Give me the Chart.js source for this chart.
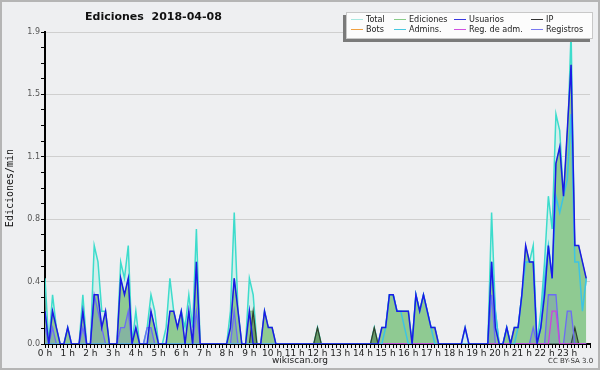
<!DOCTYPE html>
<html>
<head>
<meta charset="utf-8">
<script src="https://cdn.jsdelivr.net/npm/chart.js@4.4.0/dist/chart.umd.min.js"></script>
<style>
html, body { margin: 0; padding: 0; background: #fff; }
#wrap { position: relative; width: 600px; height: 370px; background: #eeeff1; font-family: "DejaVu Sans", sans-serif; overflow: hidden; }
#wrap canvas { position: absolute; left: 0; top: 0; }
#frame { position: absolute; left: 0; top: 0; width: 600px; height: 370px; box-sizing: border-box; border: 2px solid #b5b5b5; pointer-events: none; }
#title { position: absolute; left: 85px; top: 10px; font: bold 11px "DejaVu Sans", sans-serif; white-space: pre; color: #111; }
#legend { position: absolute; left: 346px; top: 12px; width: 247px; height: 27px; box-sizing: border-box; background: #fcfcfc; border: 1px solid #c8c8c8; box-shadow: -3px 3px 0 #7a7a7a; }
.item { position: absolute; font-family: "DejaVu Sans Condensed", "DejaVu Sans", sans-serif; font-stretch: condensed; font-size: 9px; line-height: 10px; color: #222; white-space: nowrap; }
.item i { position: absolute; left: 0; top: 5px; height: 1px; width: 12px; }
#site { position: absolute; left: 0; width: 600px; top: 355px; text-align: center; font-size: 9px; color: #222; }
#lic { position: absolute; left: 548px; top: 357px; font-size: 7px; color: #333; white-space: nowrap; }
</style>
</head>
<body>
<div id="wrap">
  <canvas id="chart" width="600" height="370"></canvas>
  <div id="title">Ediciones  2018-04-08</div>
  <div id="legend"></div>
  <div id="site">wikiscan.org</div>
  <div id="lic">CC BY-SA 3.0</div>
  <div id="frame"></div>
</div>
<script>
// ----- Données : une valeur toutes les 10 minutes (144 points) -----
const hourLabels = Array.from({ length: 24 }, (_, h) => h + ' h');

const total = [
  0.4, 0, 0.3, 0.1, 0, 0, 0.1, 0, 0, 0, 0.3, 0,
  0, 0.6, 0.5, 0.2, 0.2, 0, 0, 0, 0.5, 0.4, 0.6, 0,
  0.2, 0, 0, 0.1, 0.3, 0.2, 0, 0, 0.1, 0.4, 0.2, 0.1,
  0.2, 0.1, 0.3, 0.1, 0.7, 0, 0, 0, 0, 0, 0, 0,
  0, 0.2, 0.8, 0.2, 0, 0, 0.4, 0.3, 0, 0, 0.2, 0.1,
  0.1, 0, 0, 0, 0, 0, 0, 0, 0, 0, 0, 0,
  0.1, 0, 0, 0, 0, 0, 0, 0, 0, 0, 0, 0,
  0, 0, 0, 0.1, 0, 0.1, 0.1, 0.3, 0.3, 0.2, 0.2, 0.2,
  0.2, 0, 0.3, 0.2, 0.3, 0.2, 0.1, 0.1, 0, 0, 0, 0,
  0, 0, 0, 0.1, 0, 0, 0, 0, 0, 0, 0.8, 0.2,
  0, 0, 0.1, 0, 0.1, 0.1, 0.3, 0.5, 0.5, 0.6, 0, 0.2,
  0.5, 0.9, 0.7, 1.4, 1.3, 0.9, 1.2, 1.9, 0.5, 0.5, 0.2, 0.4
];
const ediciones = [
  0.2, 0, 0.2, 0.1, 0, 0, 0.1, 0, 0, 0, 0.2, 0,
  0, 0.3, 0.3, 0.1, 0.2, 0, 0, 0, 0.4, 0.3, 0.4, 0,
  0.1, 0, 0, 0, 0.2, 0.1, 0, 0, 0, 0.2, 0.2, 0.1,
  0.2, 0, 0.2, 0, 0.5, 0, 0, 0, 0, 0, 0, 0,
  0, 0.1, 0.4, 0.2, 0, 0, 0.2, 0.2, 0, 0, 0.2, 0.1,
  0.1, 0, 0, 0, 0, 0, 0, 0, 0, 0, 0, 0,
  0.1, 0, 0, 0, 0, 0, 0, 0, 0, 0, 0, 0,
  0, 0, 0, 0.1, 0, 0.1, 0.1, 0.3, 0.3, 0.2, 0.2, 0.2,
  0.2, 0, 0.3, 0.2, 0.3, 0.2, 0.1, 0.1, 0, 0, 0, 0,
  0, 0, 0, 0, 0, 0, 0, 0, 0, 0, 0.5, 0.1,
  0, 0, 0.1, 0, 0.1, 0.1, 0.3, 0.6, 0.5, 0.5, 0, 0.1,
  0.3, 0.6, 0.4, 1.1, 1.2, 0.9, 1.3, 1.7, 0.6, 0.6, 0.5, 0.4
];
const usuarios = [
  0.2, 0, 0.2, 0.1, 0, 0, 0.1, 0, 0, 0, 0.2, 0,
  0, 0.3, 0.3, 0.1, 0.2, 0, 0, 0, 0.4, 0.3, 0.4, 0,
  0.1, 0, 0, 0, 0.2, 0.1, 0, 0, 0, 0.2, 0.2, 0.1,
  0.2, 0, 0.2, 0, 0.5, 0, 0, 0, 0, 0, 0, 0,
  0, 0.1, 0.4, 0.2, 0, 0, 0.2, 0, 0, 0, 0.2, 0.1,
  0.1, 0, 0, 0, 0, 0, 0, 0, 0, 0, 0, 0,
  0, 0, 0, 0, 0, 0, 0, 0, 0, 0, 0, 0,
  0, 0, 0, 0, 0, 0.1, 0.1, 0.3, 0.3, 0.2, 0.2, 0.2,
  0.2, 0, 0.3, 0.2, 0.3, 0.2, 0.1, 0.1, 0, 0, 0, 0,
  0, 0, 0, 0.1, 0, 0, 0, 0, 0, 0, 0.5, 0.1,
  0, 0, 0.1, 0, 0.1, 0.1, 0.3, 0.6, 0.5, 0.5, 0, 0.1,
  0.3, 0.6, 0.4, 1.1, 1.2, 0.9, 1.3, 1.7, 0.6, 0.6, 0.5, 0.4
];
const ip = [
  0, 0, 0, 0, 0, 0, 0, 0, 0, 0, 0, 0,
  0, 0, 0, 0, 0, 0, 0, 0, 0, 0, 0, 0,
  0, 0, 0, 0, 0, 0, 0, 0, 0, 0, 0, 0,
  0, 0, 0, 0, 0, 0, 0, 0, 0, 0, 0, 0,
  0, 0, 0, 0, 0, 0, 0, 0.2, 0, 0, 0, 0,
  0, 0, 0, 0, 0, 0, 0, 0, 0, 0, 0, 0,
  0.1, 0, 0, 0, 0, 0, 0, 0, 0, 0, 0, 0,
  0, 0, 0, 0.1, 0, 0, 0, 0, 0, 0, 0, 0,
  0, 0, 0, 0, 0, 0, 0, 0, 0, 0, 0, 0,
  0, 0, 0, 0, 0, 0, 0, 0, 0, 0, 0, 0,
  0, 0, 0, 0, 0, 0, 0, 0, 0, 0, 0, 0,
  0, 0, 0, 0, 0, 0, 0, 0, 0.1, 0, 0, 0
];
const bots = [];
const admins = [
  0, 0, 0, 0, 0, 0, 0, 0, 0, 0, 0, 0,
  0, 0, 0, 0, 0, 0, 0, 0, 0, 0, 0, 0,
  0, 0, 0, 0, 0, 0, 0, 0, 0, 0, 0, 0,
  0, 0, 0, 0, 0, 0, 0, 0, 0, 0, 0, 0,
  0, 0, 0, 0, 0, 0, 0, 0, 0, 0, 0, 0,
  0, 0, 0, 0, 0, 0, 0, 0, 0, 0, 0, 0,
  0, 0, 0, 0, 0, 0, 0, 0, 0, 0, 0, 0,
  0, 0, 0, 0, 0, 0, 0.1, 0.3, 0.3, 0.2, 0.2, 0.1,
  0, 0, 0.3, 0.2, 0.3, 0.2, 0.1, 0, 0, 0, 0, 0,
  0, 0, 0, 0, 0, 0, 0, 0, 0, 0, 0.5, 0.2,
  0, 0, 0.1, 0, 0, 0.1, 0.3, 0.5, 0.5, 0.5, 0, 0.1,
  0.4, 0.6, 0.4, 0.9, 0.8, 0.9, 1.0, 1.4, 0.5, 0.5, 0.2, 0.4
];
const regAdm = [
  0, 0, 0, 0, 0, 0, 0, 0, 0, 0, 0, 0,
  0, 0, 0, 0, 0, 0, 0, 0, 0, 0, 0, 0,
  0, 0, 0, 0, 0, 0, 0, 0, 0, 0, 0, 0,
  0, 0, 0, 0, 0, 0, 0, 0, 0, 0, 0, 0,
  0, 0, 0, 0, 0, 0, 0, 0, 0, 0, 0, 0,
  0, 0, 0, 0, 0, 0, 0, 0, 0, 0, 0, 0,
  0, 0, 0, 0, 0, 0, 0, 0, 0, 0, 0, 0,
  0, 0, 0, 0, 0, 0, 0, 0, 0, 0, 0, 0,
  0, 0, 0, 0, 0, 0, 0, 0, 0, 0, 0, 0,
  0, 0, 0, 0, 0, 0, 0, 0, 0, 0, 0, 0,
  0, 0, 0, 0, 0, 0, 0, 0, 0, 0, 0, 0,
  0, 0, 0.2, 0.2, 0, 0, 0, 0, 0, 0, 0, 0
];
const registros = [
  0.1, 0, 0.1, 0, 0, 0, 0, 0, 0, 0, 0.1, 0,
  0, 0.3, 0.2, 0.1, 0, 0, 0, 0, 0.1, 0.1, 0.2, 0,
  0, 0, 0, 0.1, 0.1, 0, 0, 0, 0, 0, 0, 0,
  0, 0, 0, 0, 0.2, 0, 0, 0, 0, 0, 0, 0,
  0, 0, 0.2, 0, 0, 0, 0, 0, 0, 0, 0, 0,
  0, 0, 0, 0, 0, 0, 0, 0, 0, 0, 0, 0,
  0, 0, 0, 0, 0, 0, 0, 0, 0, 0, 0, 0,
  0, 0, 0, 0, 0, 0, 0, 0, 0, 0, 0, 0,
  0, 0, 0, 0, 0, 0, 0, 0, 0, 0, 0, 0,
  0, 0, 0, 0, 0, 0, 0, 0, 0, 0, 0.3, 0,
  0, 0, 0, 0, 0, 0, 0, 0, 0, 0.1, 0, 0,
  0, 0.3, 0.3, 0.3, 0, 0, 0.2, 0.2, 0, 0, 0, 0
];

// ----- Légende (HTML) -----
const legendItems = [
  ['Total', '#a8e8e0'], ['Ediciones', '#88cc88'], ['Usuarios', '#3838e0'], ['IP', '#333333'],
  ['Bots', '#f0a040'], ['Admins.', '#48c8e0'], ['Reg. de adm.', '#d050e0'], ['Registros', '#7878f0']
];
const colLeft = [4, 47, 107, 184];
const legendEl = document.getElementById('legend');
legendItems.forEach(([name, color], k) => {
  const d = document.createElement('div');
  d.className = 'item';
  d.style.left = colLeft[k % 4] + 'px';
  d.style.top = (k < 4 ? 1 : 11) + 'px';
  d.innerHTML = `<i style="background:${color}"></i><span style="padding-left:15px">${name}</span>`;
  legendEl.appendChild(d);
});

// ----- Chart.js -----
const pts = arr => arr.map((v, i) => ({ x: i / 6, y: v }));
const ds = (label, arr, color, extra) => Object.assign({
  label, data: pts(arr), borderColor: color, borderWidth: 1.5,
  pointRadius: 0, tension: 0, fill: false
}, extra);

const ctx = document.getElementById('chart').getContext('2d');
new Chart(ctx, {
  type: 'line',
  data: {
    datasets: [
      ds('Total', total, '#3ddccc', { fill: 'origin', backgroundColor: 'rgba(190,238,230,0.55)', order: 9 }),
      ds('Ediciones', ediciones, '#74c27c', { borderWidth: 1, fill: 'origin', backgroundColor: '#8fca92', order: 8 }),
      ds('IP', ip, '#2f3f2f', { borderWidth: 1.2, fill: 'origin', backgroundColor: 'rgba(20,60,20,0.3)', order: 7 }),
      ds('Bots', bots, '#f0a040', { order: 6 }),
      ds('Registros', registros, '#6b6bf5', { borderWidth: 1.3, fill: 'origin', backgroundColor: 'rgba(90,90,230,0.18)', order: 5 }),
      ds('Reg. de adm.', regAdm, '#cc44dd', { borderWidth: 1.3, order: 4 }),
      ds('Admins.', admins, '#3cc4e4', { order: 3 }),
      ds('Usuarios', usuarios, '#1a1ae6', { order: 2 })
    ]
  },
  options: {
    responsive: false,
    animation: false,
    layout: { padding: { top: 32, right: 10, left: 0, bottom: 0 } },
    plugins: { legend: { display: false }, title: { display: false }, tooltip: { enabled: false } },
    scales: {
      x: {
        type: 'linear', min: 0, max: 24, z: 1,
        afterBuildTicks: axis => { axis.ticks = Array.from({ length: 145 }, (_, k) => ({ value: k / 6 })); },
        afterFit: scale => { scale.height = 26; },
        border: { color: '#000', width: 2 },
        grid: { drawOnChartArea: false, drawTicks: true, tickLength: 4, tickColor: '#000' },
        ticks: {
          autoSkip: false, maxRotation: 0, padding: 0, color: '#222',
          font: { family: 'DejaVu Sans', size: 9 },
          callback: (v, k) => (k % 6 === 0 && k < 144) ? hourLabels[k / 6] : ''
        }
      },
      y: {
        min: 0, max: 1.9,
        afterBuildTicks: axis => { axis.ticks = Array.from({ length: 21 }, (_, k) => ({ value: k * 1.9 / 20 })); },
        afterFit: scale => { scale.width = 45; },
        border: { color: '#000', width: 2 },
        grid: {
          color: c => (c.index % 4 === 0 && c.index > 0) ? '#cfcfcf' : 'rgba(0,0,0,0)',
          tickColor: '#000', tickLength: 4
        },
        ticks: {
          autoSkip: false, padding: 1, color: '#555',
          font: { family: 'DejaVu Sans', size: 8 },
          callback: (v, k) => k % 4 === 0 ? v.toFixed(1) : ''
        },
        title: {
          display: true, text: 'Ediciones/min', color: '#111', padding: { top: 4, bottom: 0 },
          font: { family: 'DejaVu Sans Mono', size: 10 }
        }
      }
    }
  }
});
</script>
</body>
</html>
